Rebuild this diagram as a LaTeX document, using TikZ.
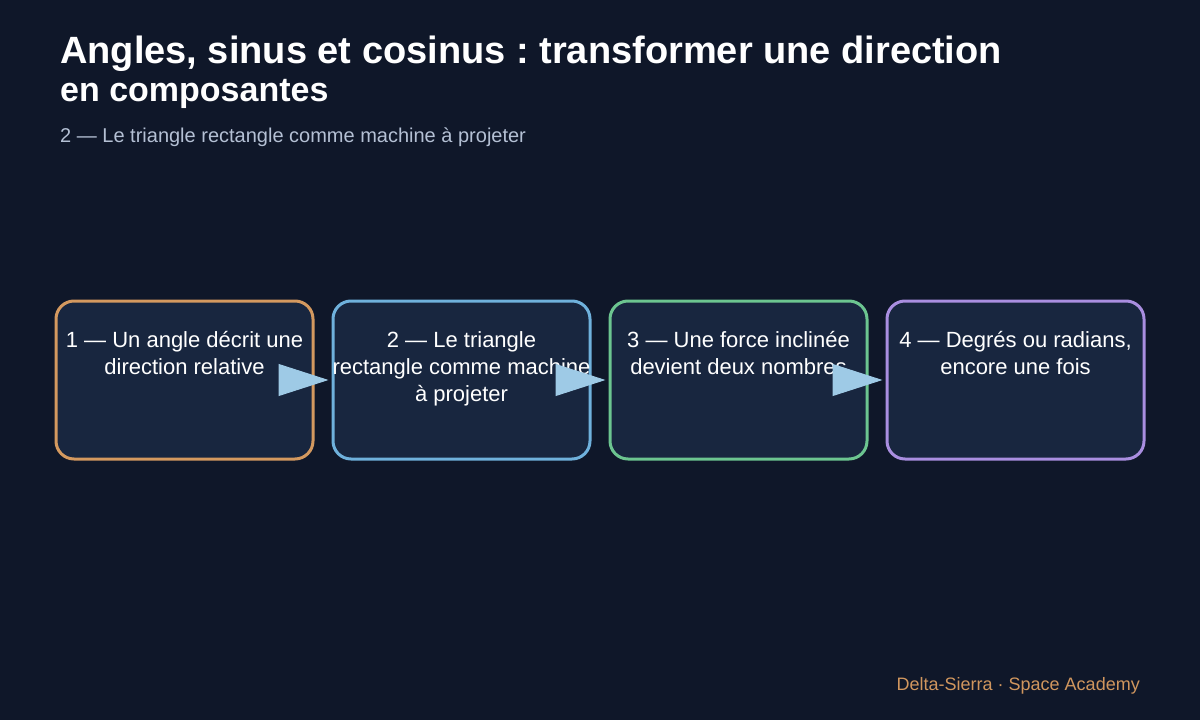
\documentclass[tikz,border=0pt]{standalone}
\usepackage{fontspec}
\setmainfont{Liberation Sans}
\usepackage{xcolor}
\usetikzlibrary{positioning,arrows.meta}
\frenchspacing

\definecolor{bgdark}{HTML}{0F1729}
\definecolor{boxfill}{HTML}{18263F}
\definecolor{cOrange}{HTML}{D4995F}
\definecolor{cBlue}{HTML}{6FB1DC}
\definecolor{cGreen}{HTML}{6CC590}
\definecolor{cPurple}{HTML}{A98EE0}
\definecolor{arrowcol}{HTML}{9ECAE6}
\definecolor{subcol}{HTML}{B4C0D4}
\definecolor{footcol}{HTML}{D0965E}

\tikzset{
  stage/.style={draw, fill=boxfill, line width=3pt, rounded corners=18pt,
    minimum width=257pt, minimum height=158pt, inner sep=0pt},
  stagetext/.style={text=white, text width=264pt, align=flush center, inner sep=0pt,
    font=\fontsize{22}{27}\selectfont},
  flow/.style={arrowcol, line width=1pt, shorten >=3pt,
    -{Triangle[length=50pt, width=32pt]}},
}

\begin{document}
\begin{tikzpicture}[x=1pt, y=-1pt]

    \fill[bgdark] (0,0) rectangle (1200,720);
    \useasboundingbox (0,0) rectangle (1200,720);

    % titre
    \node[anchor=base west, inner sep=0pt, text=white, font=\bfseries\fontsize{38}{38}\selectfont]
        (title1) at (60,63) {Angles, sinus et cosinus : transformer une direction};
    \node[anchor=base west, inner sep=0pt, text=white, font=\bfseries\fontsize{34}{34}\selectfont]
        (title2) at (60,101) {en composantes};
    \node[anchor=base west, inner sep=0pt, text=subcol, font=\fontsize{20}{20}\selectfont]
        (subtitle) at (60,142) {2 — Le triangle rectangle comme machine à projeter};

    % etapes
    \node[stage, draw=cOrange] (box1) at (184.5,380) {};
    \node[stage, draw=cBlue]   (box2) at (461.5,380) {};
    \node[stage, draw=cGreen]  (box3) at (738.5,380) {};
    \node[stage, draw=cPurple] (box4) at (1015.5,380) {};

    \node[stagetext, below=32pt of box1.north] (txt1) {1 — Un angle décrit une\\direction relative};
    \node[stagetext, below=32pt of box2.north] (txt2) {2 — Le triangle\\rectangle comme machine\\à projeter};
    \node[stagetext, below=32pt of box3.north] (txt3) {3 — Une force inclinée\\devient deux nombres};
    \node[stagetext, below=32pt of box4.north] (txt4) {4 — Degrés ou radians,\\encore une fois};

    \path[flow]
        (box1) edge (box2)
        (box2) edge (box3)
        (box3) edge (box4);

    \node[anchor=base east, inner sep=0pt, text=footcol, font=\fontsize{18}{18}\selectfont]
        (footer) at (1140,690) {Delta-Sierra · Space Academy};
\end{tikzpicture}
\end{document}
